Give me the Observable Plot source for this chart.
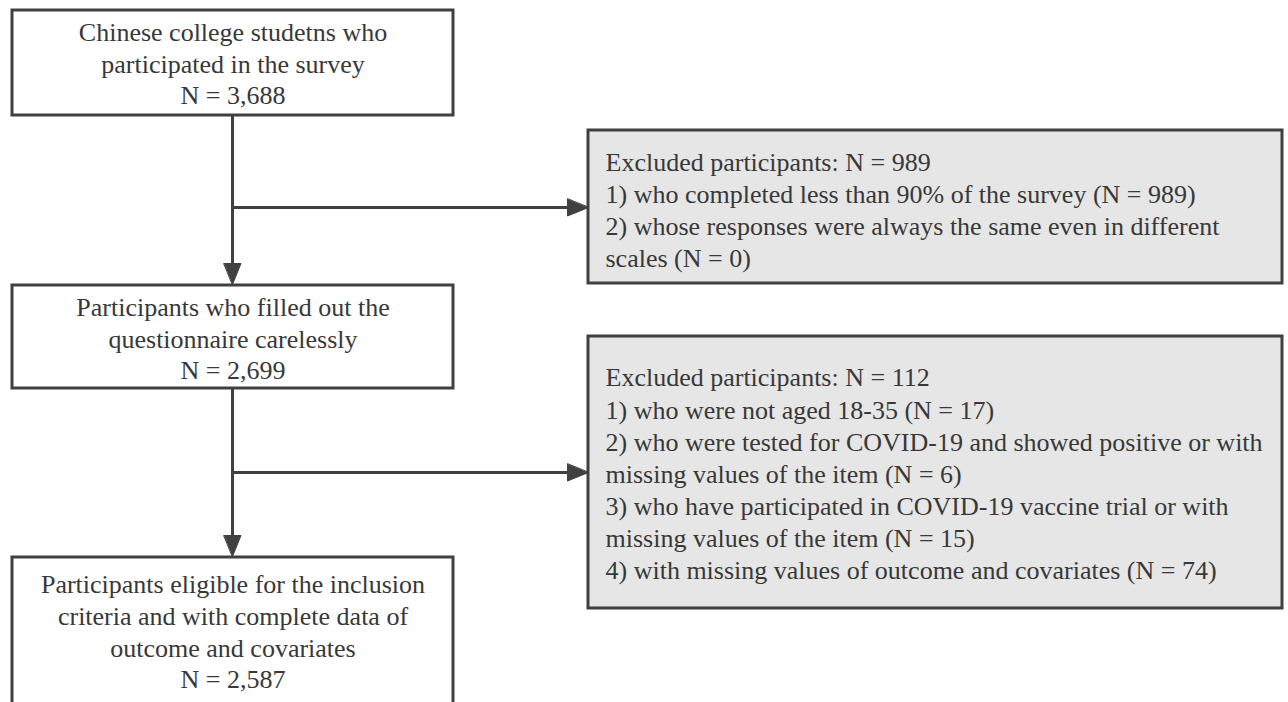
<!DOCTYPE html>
<html><head><meta charset="utf-8">
<script src="https://cdn.jsdelivr.net/npm/d3@7"></script>
<script src="https://cdn.jsdelivr.net/npm/@observablehq/plot@0.6"></script>
<style>html,body{margin:0;padding:0;background:#fff;overflow:hidden}</style>
</head><body><div id="chart"></div>
<script>
// ---- data ----
const stageLabels = [
  "Chinese college studetns who\nparticipated in the survey",
  "Participants who filled out the\nquestionnaire carelessly",
  "Participants eligible for the inclusion\ncriteria and with complete data of\noutcome and covariates"
];
const stageN = [3688, 2699, 2587];
const excludedTotals = [989, 112];
const exclusionReasons1 = [
  "who completed less than 90% of the survey",
  "whose responses were always the same even in different\nscales"
];
const exclusionCounts1 = [989, 0];
const exclusionReasons2 = [
  "who were not aged 18-35",
  "who were tested for COVID-19 and showed positive or with\nmissing values of the item",
  "who have participated in COVID-19 vaccine trial or with\nmissing values of the item",
  "with missing values of outcome and covariates"
];
const exclusionCounts2 = [17, 6, 15, 74];

// ---- layout (positions kept apart from data) ----
const stageLayout = [
  {x1: 12, x2: 453, y1: 10, y2: 115, ty: 62},
  {x1: 12, x2: 453, y1: 285, y2: 388, ty: 337},
  {x1: 12, x2: 453, y1: 557, y2: 740, ty: 630}
];
const excludedLayout = [
  {x1: 588, x2: 1282, y1: 130, y2: 283, tx: 605, ty: 208},
  {x1: 588, x2: 1282, y1: 336, y2: 608, tx: 605, ty: 472}
];
const branchY = [207, 472];
const trunkX = 232;
const headLen = 21, headHalf = 8.5;

const fmt = d3.format(",");
const ink = "#404040";
const textInk = "#383838";
const font = "'Liberation Serif', 'Times New Roman', serif";

const stages = stageLabels.map((t, i) => ({
  ...stageLayout[i],
  label: `${t}\nN = ${fmt(stageN[i])}`,
  cx: (stageLayout[i].x1 + stageLayout[i].x2) / 2
}));
const reasonSets = [[exclusionReasons1, exclusionCounts1], [exclusionReasons2, exclusionCounts2]];
const excluded = excludedTotals.map((n, i) => {
  const [reasons, counts] = reasonSets[i];
  const lines = [`Excluded participants: N = ${fmt(n)}`]
    .concat(reasons.map((r, j) => `${j + 1}) ${r} (N = ${fmt(counts[j])})`));
  return {...excludedLayout[i], label: lines.join("\n")};
});

// connectors
const segments = [];
const heads = [];
function addArrow(x1, y1, x2, y2, id) {
  const dx = Math.sign(x2 - x1), dy = Math.sign(y2 - y1);
  const bx = x2 - dx * headLen, by = y2 - dy * headLen;
  segments.push({x1, y1, x2: bx, y2: by});
  heads.push({id, x: x2, y: y2});
  heads.push({id, x: bx + dy * headHalf, y: by + dx * headHalf});
  heads.push({id, x: bx - dy * headHalf, y: by - dx * headHalf});
}
for (let i = 0; i < 2; i++) {
  addArrow(trunkX, stages[i].y2, trunkX, stages[i + 1].y1 - 1, "v" + i);
  addArrow(trunkX, branchY[i], excluded[i].x1, branchY[i], "h" + i);
}

const chart = Plot.plot({
  width: 1288,
  height: 702,
  margin: 0,
  x: {domain: [0, 1288], range: [0, 1288], axis: null},
  y: {domain: [0, 702], range: [0, 702], axis: null},
  style: {background: "#fff", overflow: "hidden"},
  marks: [
    Plot.rect(stages, {x1: "x1", x2: "x2", y1: "y1", y2: "y2", fill: "#fff", stroke: ink, strokeWidth: 3}),
    Plot.rect(excluded, {x1: "x1", x2: "x2", y1: "y1", y2: "y2", fill: "#e6e6e6", stroke: ink, strokeWidth: 3}),
    Plot.link(segments, {x1: "x1", y1: "y1", x2: "x2", y2: "y2", stroke: ink, strokeWidth: 3}),
    Plot.line(heads, {x: "x", y: "y", z: "id", fill: ink, stroke: ink, strokeWidth: 1, curve: "linear-closed"}),
    Plot.text(stages, {x: "cx", y: "ty", text: "label", fontSize: 26, fontFamily: font, fill: textInk,
      textAnchor: "middle", lineAnchor: "middle", lineHeight: 1.22}),
    Plot.text(excluded, {x: "tx", y: "ty", text: "label", fontSize: 26, fontFamily: font, fill: textInk,
      textAnchor: "start", lineAnchor: "middle", lineHeight: 1.235})
  ]
});
document.getElementById("chart").appendChild(chart);
</script>
</body></html>
